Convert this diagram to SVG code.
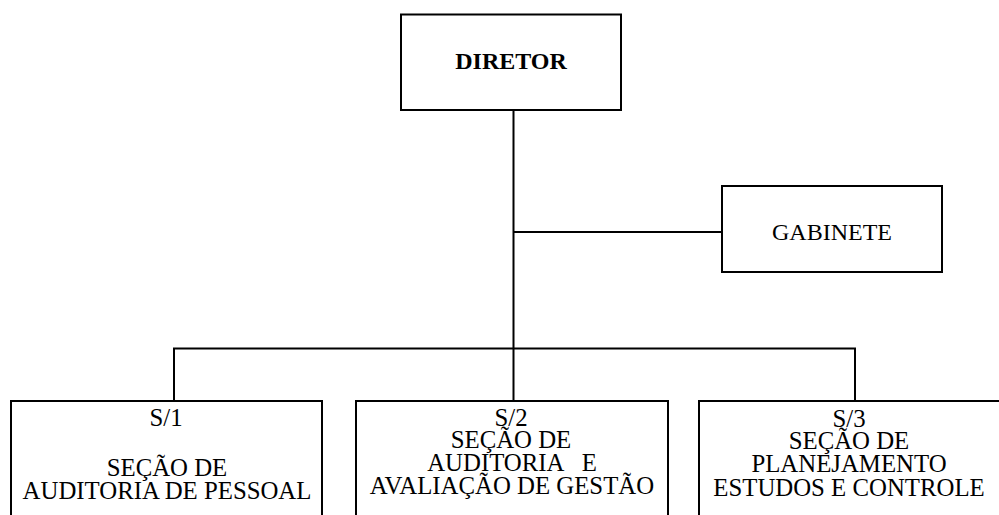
<svg xmlns="http://www.w3.org/2000/svg" width="999" height="515" viewBox="0 0 999 515">
<style>
.box{fill:#fff;stroke:#000;stroke-width:2}
.ln{fill:none;stroke:#000;stroke-width:2}
.sm{font-size:24.8px}
</style>
<rect width="999" height="515" fill="#fff"/>
<g id="connectors">
<path class="ln" d="M513.5 110 V401"/>
<path class="ln" d="M513.5 232 H722"/>
<path class="ln" d="M174 401 V348.5 H855 V401"/>
</g>
<g font-family="Liberation Serif, Times New Roman, serif" font-size="24" text-anchor="middle" fill="#000">
<g id="diretor">
<rect class="box" x="401" y="14.5" width="220" height="95.5"/>
<text font-weight="bold" x="511" y="69">DIRETOR</text>
</g>
<g id="gabinete">
<rect class="box" x="722" y="186" width="220" height="86"/>
<text x="832" y="240">GABINETE</text>
</g>
<g id="s1" class="sm">
<rect class="box" x="11" y="401" width="311" height="140"/>
<text x="166" y="426">S/1</text>
<text x="167" y="476">SEÇÃO DE</text>
<text x="167" y="498.5">AUDITORIA DE PESSOAL</text>
</g>
<g id="s2" class="sm">
<rect class="box" x="356" y="401" width="312" height="140"/>
<text x="511" y="426">S/2</text>
<text x="511" y="448">SEÇÃO DE</text>
<text x="512" y="470.5" xml:space="preserve">AUDITORIA   E</text>
<text x="512" y="493.5">AVALIAÇÃO DE GESTÃO</text>
</g>
<g id="s3" class="sm">
<rect class="box" x="699" y="401" width="320" height="140"/>
<text x="849" y="426.5">S/3</text>
<text x="849" y="449">SEÇÃO DE</text>
<text x="849" y="471.5">PLANEJAMENTO</text>
<text x="849" y="496">ESTUDOS E CONTROLE</text>
</g>
</g>
</svg>
